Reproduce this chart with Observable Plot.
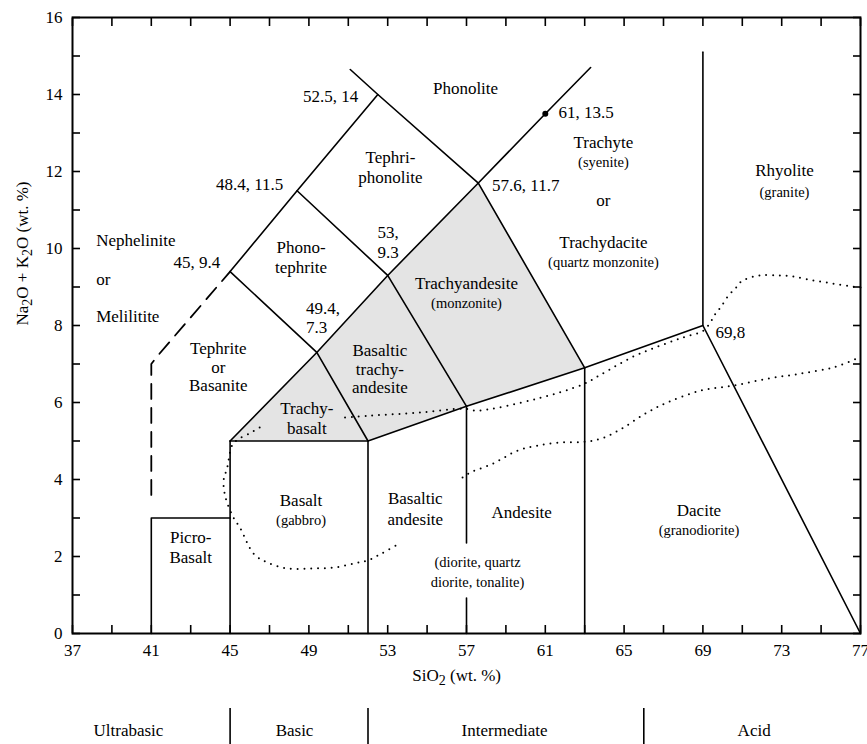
<!DOCTYPE html>
<html><head><meta charset="utf-8">
<script src="https://cdn.jsdelivr.net/npm/d3@7"></script>
<script src="https://cdn.jsdelivr.net/npm/@observablehq/plot@0.6"></script>
<style>
html,body{margin:0;padding:0;background:#fff;}
#chart svg{display:block;}
</style>
</head><body><div id="chart"></div>
<script>
// ---- tick values ----
const xTickLabels = [37, 41, 45, 49, 53, 57, 61, 65, 69, 73, 77];
const xMinorTicks = [37, 39, 41, 43, 45, 47, 49, 51, 53, 55, 57, 59, 61, 63, 65, 67, 69, 71, 73, 75, 77];
const yTickLabels = [0, 2, 4, 6, 8, 10, 12, 14, 16];
const yMinorTicks = [0, 1, 2, 3, 4, 5, 6, 7, 8, 9, 10, 11, 12, 13, 14, 15, 16];

// ---- solid field boundaries (SiO2, Na2O+K2O) ----
const picroBasaltTop = [[41, 0], [41, 3], [45, 3]];
const line45 = [[45, 0], [45, 5]];
const line52 = [[52, 0], [52, 5]];
const line57lower = [[57, 0], [57, 0.92]];
const line57upper = [[57, 2.35], [57, 5.9]];
const line63 = [[63, 0], [63, 6.9]];
const line69 = [[69, 8], [69, 15.1]];
const subalkalineTop = [[45, 5], [52, 5], [57, 5.9], [63, 6.9], [69, 8], [77, 0]];
const trachyBoundary = [[45, 5], [49.4, 7.3], [53, 9.3], [57.6, 11.7], [61, 13.5], [63.3, 14.7]];
const tephriteBoundary = [[45, 9.4], [49.4, 7.3], [52, 5]];
const phonotephriteTop = [[45, 9.4], [48.4, 11.5], [52.5, 14]];
const tephriphonoliteBase = [[48.4, 11.5], [53, 9.3], [57, 5.9]];
const phonoliteBoundary = [[51.1, 14.65], [52.5, 14], [57.6, 11.7], [63, 6.9]];
// dashed boundary
const foiditeBoundary = [[41, 3.6], [41, 7.0], [41.3, 7.2], [45, 9.4]];

// ---- shaded fields ----
const trachybasaltField = [[45, 5], [49.4, 7.3], [52, 5]];
const basalticTrachyandesiteField = [[52, 5], [49.4, 7.3], [53, 9.3], [57, 5.9]];
const trachyandesiteField = [[57, 5.9], [53, 9.3], [57.6, 11.7], [63, 6.9]];

// ---- dotted curves ----
const dottedUpperA = [[77, 8.99], [76.65, 9.01], [75.6, 9.09], [74.6, 9.17], [73.6, 9.27], [72.9, 9.3], [71.9, 9.3],
  [71.26, 9.22], [70.9, 9.12], [70.65, 8.96], [70.3, 8.78], [69.9, 8.47], [69.64, 8.31], [69.39, 8.09],
  [69.03, 7.87], [68.0, 7.69], [66.85, 7.48], [65.5, 7.2], [63.8, 6.72], [62.9, 6.47], [60.6, 6.1],
  [57.56, 5.79], [56.85, 5.84], [54.7, 5.74], [52.1, 5.66], [50.76, 5.61]];
const dottedUpperB = [[46.5, 5.35], [46.0, 5.2], [45.4, 5.04], [45.1, 4.88], [44.85, 4.3], [44.67, 3.97],
  [44.77, 3.53], [45.17, 3.01], [45.5, 2.75], [46.2, 2.07], [46.9, 1.84], [47.9, 1.69], [49.1, 1.69],
  [50.25, 1.71], [51.3, 1.82], [52.0, 1.9], [52.7, 2.08], [53.6, 2.34]];
const dottedLower = [[56.8, 4.05], [57.2, 4.18], [58.37, 4.42], [59.6, 4.75], [60.6, 4.88], [61.8, 4.96],
  [63.04, 4.98], [63.95, 5.08], [64.97, 5.35], [66.1, 5.72], [67.2, 6.0], [68.9, 6.31], [70.55, 6.44],
  [72.3, 6.62], [73.95, 6.75], [75.6, 6.91], [76.8, 7.14], [77, 7.2]];

const markedPoint = [[61, 13.5]];

// ---- labels ----
const rockNames = [
  ["Phonolite", 56.95, 14.16], ["Tephri-", 53.14, 12.36], ["phonolite", 53.14, 11.84],
  ["Trachyte", 63.95, 12.75], ["or", 63.95, 11.25], ["Trachydacite", 63.95, 10.16],
  ["Rhyolite", 73.14, 12.03], ["Phono-", 48.6, 10.03], ["tephrite", 48.6, 9.5],
  ["Trachyandesite", 57.0, 9.09], ["Tephrite", 44.4, 7.4], ["or", 44.4, 6.9], ["Basanite", 44.4, 6.44],
  ["Basaltic", 52.6, 7.35], ["trachy-", 52.6, 6.86], ["andesite", 52.6, 6.39],
  ["Trachy-", 48.9, 5.84], ["basalt", 48.9, 5.32], ["Basalt", 48.6, 3.45],
  ["Picro-", 43.0, 2.49], ["Basalt", 43.0, 1.97], ["Basaltic", 54.4, 3.5], ["andesite", 54.4, 2.96],
  ["Andesite", 59.8, 3.14], ["Dacite", 68.8, 3.19]
];
const foiditeNames = [["Nephelinite", 38.2, 10.2], ["or", 38.2, 9.2], ["Melilitite", 38.2, 8.23]];
const plutonicNames = [
  ["(syenite)", 63.95, 12.23], ["(quartz monzonite)", 63.95, 9.64], ["(granite)", 73.14, 11.45],
  ["(monzonite)", 57.0, 8.57], ["(gabbro)", 48.6, 2.94], ["(diorite, quartz", 57.56, 1.84],
  ["diorite, tonalite)", 57.56, 1.32], ["(granodiorite)", 68.8, 2.68]
];
const vertexLabelsRight = [["52.5, 14", 51.5, 13.95], ["48.4, 11.5", 47.7, 11.66], ["45, 9.4", 44.5, 9.64]];
const vertexLabelsLeft = [["61, 13.5", 61.67, 13.53], ["57.6, 11.7", 58.3, 11.64], ["69,8", 69.64, 7.82],
  ["53,", 52.48, 10.42], ["9.3", 52.48, 9.9], ["49.4,", 48.85, 8.43], ["7.3", 48.85, 7.95]];

// ---- silica classes band below the axis ----
const classNames = ["Ultrabasic", "Basic", "Intermediate", "Acid"];
const classLabelX = [39.84, 48.27, 58.93, 71.6];
const classBoundaries = [45, 52, 66];

// ---- build tables ----
const rows = (name, pts) => pts.map(([x, y]) => ({name, x, y}));
const solidRows = [
  ...rows("picro", picroBasaltTop), ...rows("l45", line45), ...rows("l52", line52),
  ...rows("l57a", line57lower), ...rows("l57b", line57upper), ...rows("l63", line63),
  ...rows("l69", line69), ...rows("sub", subalkalineTop), ...rows("trachy", trachyBoundary),
  ...rows("teph", tephriteBoundary), ...rows("phte", phonotephriteTop),
  ...rows("tpb", tephriphonoliteBase), ...rows("phon", phonoliteBoundary)
];
const fieldRows = [...rows("tb", trachybasaltField), ...rows("bta", basalticTrachyandesiteField),
  ...rows("ta", trachyandesiteField)];
const dottedRows = [...rows("ua", dottedUpperA), ...rows("ub", dottedUpperB), ...rows("lo", dottedLower)];
const dashedRows = rows("foid", foiditeBoundary);
const lab = (arr) => arr.map(([text, x, y]) => ({text, x, y}));
const classRows = classNames.map((text, i) => ({text, x: classLabelX[i]}));

const font = "'Liberation Serif', 'Times New Roman', serif";
const blank = () => "";

const chart = Plot.plot({
  width: 867, height: 744,
  marginLeft: 72, marginRight: 7, marginTop: 17, marginBottom: 111,
  x: {domain: [37, 77], label: null},
  y: {domain: [0, 16], label: null},
  style: {fontFamily: font, color: "black", background: "white"},
  marks: [
    Plot.line(fieldRows, {x: "x", y: "y", z: "name", fill: "#e4e4e4", stroke: "none"}),
    Plot.line(dottedRows, {x: "x", y: "y", z: "name", stroke: "black", strokeWidth: 2,
      strokeDasharray: "0,6.8", strokeLinecap: "round", curve: "catmull-rom"}),
    Plot.line(solidRows, {x: "x", y: "y", z: "name", stroke: "black", strokeWidth: 1.6}),
    Plot.line(dashedRows, {x: "x", y: "y", stroke: "black", strokeWidth: 1.8, strokeDasharray: "15,9"}),
    Plot.dot(markedPoint, {x: d => d[0], y: d => d[1], r: 3, fill: "black", stroke: "none"}),
    Plot.frame({strokeWidth: 2}),
    Plot.axisX(xMinorTicks, {anchor: "bottom", tickSize: -8, strokeWidth: 1.6, tickFormat: blank, label: null}),
    Plot.axisX(xMinorTicks, {anchor: "top", tickSize: -8, strokeWidth: 1.6, tickFormat: blank, label: null}),
    Plot.axisX(xTickLabels, {anchor: "bottom", tickSize: 0, tickPadding: 10, fontSize: 17, label: null}),
    Plot.axisY(yMinorTicks, {anchor: "left", tickSize: -8, strokeWidth: 1.6, tickFormat: blank, label: null}),
    Plot.axisY(yMinorTicks, {anchor: "right", tickSize: -8, strokeWidth: 1.6, tickFormat: blank, label: null}),
    Plot.axisY(yTickLabels, {anchor: "left", tickSize: 0, tickPadding: 10, fontSize: 17, label: null}),
    Plot.text(lab(rockNames), {x: "x", y: "y", text: "text", fontSize: 17}),
    Plot.text(lab(foiditeNames), {x: "x", y: "y", text: "text", fontSize: 17, textAnchor: "start"}),
    Plot.text(lab(plutonicNames), {x: "x", y: "y", text: "text", fontSize: 14.5}),
    Plot.text(lab(vertexLabelsRight), {x: "x", y: "y", text: "text", fontSize: 17, textAnchor: "end"}),
    Plot.text(lab(vertexLabelsLeft), {x: "x", y: "y", text: "text", fontSize: 17, textAnchor: "start"}),
    Plot.text(["SiO₂ (wt. %)"], {x: () => 56.5, frameAnchor: "bottom", dy: 47, fontSize: 17}),
    Plot.text(["Na₂O + K₂O (wt. %)"], {frameAnchor: "left", rotate: -90, dx: -50, fontSize: 17}),
    Plot.ruleX(classBoundaries, {x: d => d, y1: -1.95, y2: -2.9, strokeWidth: 1.6}),
    Plot.text(classRows, {x: "x", y: () => -2.52, text: "text", fontSize: 17})
  ]
});

// subscripts
d3.select(chart).selectAll("text").each(function () {
  const t = this.textContent;
  if (!t.includes("₂")) return;
  const parts = t.split("₂");
  const sel = d3.select(this);
  sel.text(null);
  parts.forEach((p, i) => {
    if (i > 0) {
      sel.append("tspan").attr("dy", 4).attr("font-size", 14).text("2");
      sel.append("tspan").attr("dy", -4).text(p);
    } else {
      sel.append("tspan").text(p);
    }
  });
});

document.getElementById("chart").appendChild(chart);
</script>
</body></html>
